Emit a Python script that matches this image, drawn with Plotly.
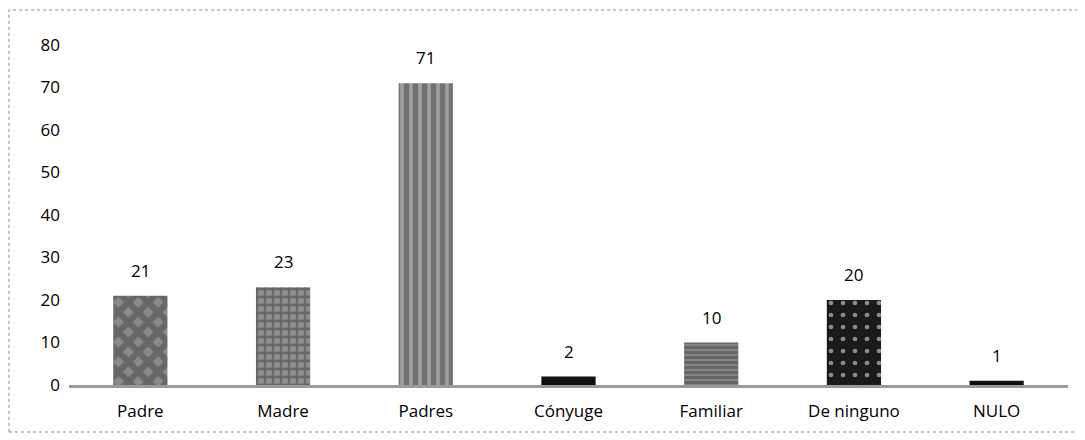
import plotly.graph_objects as go

categories = ["Padre", "Madre", "Padres", "Cónyuge", "Familiar", "De ninguno", "NULO"]
values = [21, 23, 71, 2, 10, 20, 1]
y_ticks = [0, 10, 20, 30, 40, 50, 60, 70, 80]

# fill pattern per bar, imitating the scanned Excel textures
shapes = ["x", "+", "|", "", "-", ".", ""]
fg = ["#000000", "#000000", "#000000", "#111111", "#000000", "#8c8c8c", "#111111"]
bg = ["#8a8a8a", "#8e8e8e", "#a0a0a0", "#111111", "#888888", "#1a1a1a", "#111111"]
sizes = [14, 8, 9, 8, 5, 12, 8]
solid = [0.7, 0.5, 0.6, 0.3, 0.65, 0.12, 0.3]

font = "'Open Sans', sans-serif"

fig = go.Figure(
    go.Bar(
        x=categories,
        y=values,
        marker=dict(
            color=bg,
            line=dict(width=0),
            pattern=dict(shape=shapes, fgcolor=fg, bgcolor=bg, size=sizes,
                         solidity=solid, fillmode="overlay"),
        ),
        hoverinfo="x+y",
    )
)

# value labels above the bars
for cat, val in zip(categories, values):
    fig.add_annotation(
        x=cat, y=val, text=str(val), showarrow=False,
        yanchor="bottom", yshift=12,
        font=dict(size=17, color="#000000", family=font),
    )

# page body adds an 8px offset, so the figure is drawn 8px smaller
fig.update_layout(
    width=1077,
    height=432,
    paper_bgcolor="white",
    plot_bgcolor="white",
    margin=dict(l=61, r=17, t=37, b=55),
    bargap=0.62,
    showlegend=False,
    font=dict(family=font, size=17, color="#000000"),
)

fig.update_yaxes(
    range=[0, 80],
    tickvals=y_ticks,
    showgrid=False,
    zeroline=False,
    showline=False,
    ticks="",
    ticklabelstandoff=8,
)

fig.update_xaxes(
    showline=True,
    linecolor="#9a9a9a",
    linewidth=3,
    ticks="",
    showgrid=False,
    ticklabelstandoff=9,
)

# dotted frame of the scanned chart
fig.add_shape(
    type="rect", xref="paper", yref="paper",
    x0=-60 / 999.4, x1=1014 / 999.4, y0=-47 / 340, y1=375 / 340,
    line=dict(color="#8a8a8a", width=1, dash="dot"),
)

fig.write_html("out.html")
